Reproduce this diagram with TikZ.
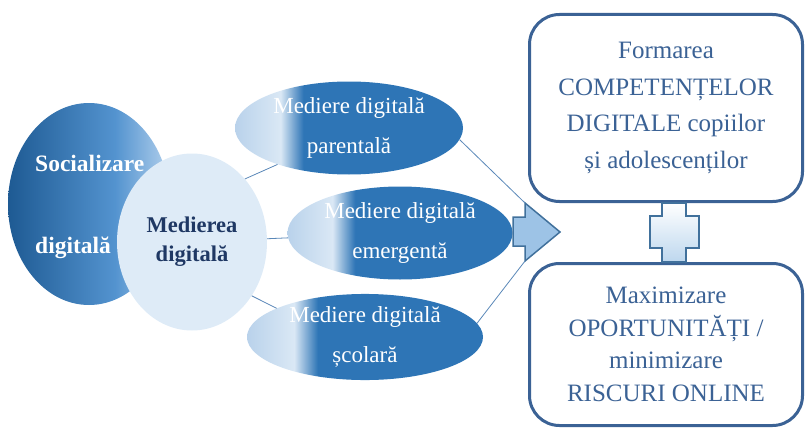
\documentclass[tikz,border=0pt]{standalone}
\usepackage{fontspec}
\setmainfont{Liberation Serif}
\usepackage{tikz}
\usetikzlibrary{shapes.geometric, positioning}

\definecolor{meddark}{HTML}{2E75B6}
\definecolor{medlight}{HTML}{B9D2EB}
\definecolor{medpale}{HTML}{DAE8F5}
\definecolor{socdark}{HTML}{1E5A93}
\definecolor{socmid}{HTML}{5393CF}
\definecolor{soclight}{HTML}{B2D0ED}
\definecolor{circfill}{HTML}{DEEBF7}
\definecolor{navy}{HTML}{1F3864}
\definecolor{boxblue}{HTML}{3B6295}
\definecolor{arrowfill}{HTML}{9DC3E6}
\definecolor{arrowline}{HTML}{41719C}
\definecolor{plusfill}{HTML}{BDD7EE}
\definecolor{linkblue}{HTML}{5A88B8}

\pgfdeclarehorizontalshading{medshade}{100bp}{color(0bp)=(medlight); color(25bp)=(medlight); color(35bp)=(medpale); color(40bp)=(meddark); color(100bp)=(meddark)}
\pgfdeclarehorizontalshading{socshade}{100bp}{color(0bp)=(socdark); color(25bp)=(socdark); color(58bp)=(socmid); color(75bp)=(soclight); color(100bp)=(soclight)}

\begin{document}
\begin{tikzpicture}[x=1pt, y=-1pt,
	bigoval/.style = {ellipse, inner sep=0pt, shading=socshade,
		text=white, font=\bfseries\fontsize{23.5}{82}\selectfont},
	circ/.style = {ellipse, inner sep=0pt, fill=circfill, text=navy, align=center,
		font=\bfseries\fontsize{22.5}{29}\selectfont},
	oval/.style = {ellipse, inner sep=0pt, shading=medshade, text=white, align=center,
		font=\fontsize{23}{40}\selectfont},
	resultbox/.style = {draw=boxblue, line width=3pt, rounded corners=30pt, fill=white,
		text=boxblue, align=center, minimum width=273pt, inner sep=0pt},
	connector/.style = {draw=linkblue, line width=0.8pt},
]
\useasboundingbox (0,0) rectangle (805,428);

% left ovals
\node (soc) [bigoval, minimum width=162pt, minimum height=202pt] at (89,204) {};
\node (med) [circ, minimum width=150pt, minimum height=177pt] at (192,242) {Medierea\\digitală};
\node (soctext) [text=white, align=left, anchor=west, inner sep=0pt,
	font=\bfseries\fontsize{23.5}{82}\selectfont] at (35,207) {Socializare\\digitală};

% three kinds of mediation
\node (parent) [oval, minimum width=228pt, minimum height=93pt] at (349,128) {Mediere digitală\\parentală};
\node (emerg) [oval, minimum width=225pt, minimum height=93pt] at (400,233) {Mediere digitală\\emergentă};
\node (scol) [oval, minimum width=236pt, minimum height=85pt] at (365,337) {Mediere digitală\\școlară};

% result boxes
\node (comp) [resultbox, minimum height=187pt, font=\fontsize{25}{36.5}\selectfont] at (666,108)
	{Formarea\\COMPETENȚELOR\\DIGITALE copiilor\\și adolescenților};
\node (oport) [resultbox, minimum height=162pt, font=\fontsize{25}{32.5}\selectfont] at (666,344.5)
	{Maximizare\\OPORTUNITĂȚI /\\minimizare\\RISCURI ONLINE};

% block arrow
\coordinate (headtop) at (525,203);
\coordinate (headbot) at (525,261);
\draw [fill=arrowfill, draw=arrowline, line width=1.5pt, line join=miter]
	(513,217) -- (525,217) -- (headtop) -- (560,232) -- (headbot) -- (525,246) -- (513,246) -- cycle;

% plus sign
\draw [top color=white, bottom color=plusfill, draw=arrowline, line width=1.5pt]
	(662,203) -- (686,203) -- (686,216) -- (699,216) -- (699,248) -- (686,248)
	-- (686,262) -- (662,262) -- (662,248) -- (650,248) -- (650,216) -- (662,216) -- cycle;

\path [connector]
	(med.50)  edge (parent.207)
	(med)     edge (emerg)
	(med.318) edge (scol.162)
	(parent.354) edge (headtop)
	(scol.7)  edge (headbot);
\end{tikzpicture}
\end{document}
